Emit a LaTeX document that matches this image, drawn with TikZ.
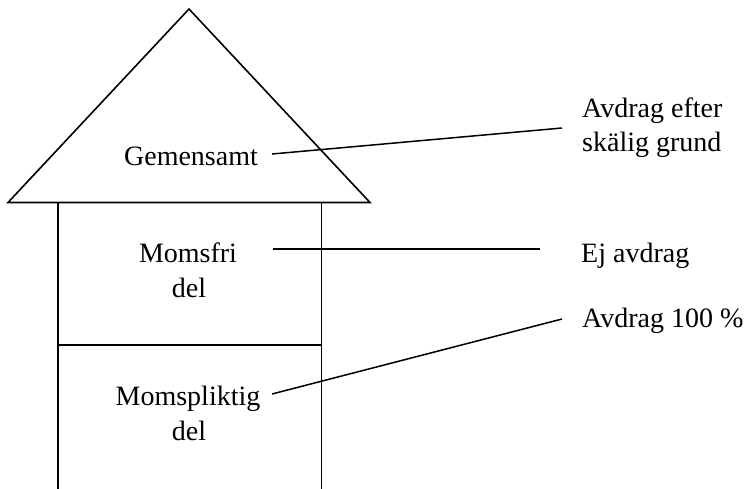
\documentclass[tikz,border=0pt]{standalone}
\usepackage{fontspec}
\setmainfont{Liberation Serif}
\begin{document}
\begin{tikzpicture}[x=1pt,y=-1pt,
  lbl/.style={inner sep=0pt,font=\fontsize{28}{33}\selectfont},
  wall/.style={line width=1.6pt,line join=miter},
  conn/.style={line width=1.5pt}]
\useasboundingbox (0,0) rectangle (751,488);
% house
\coordinate (apex) at (189,9);
\coordinate (bl) at (8,202.5);
\coordinate (br) at (370,202.5);
\draw[wall] (bl) -- (apex) -- (br) -- cycle;
\draw[wall] (58,202.5) -- (58,489);
\draw[wall] (321.5,202.5) -- (321.5,489);
\draw[wall] (58,345) -- (321.5,345);
% left labels
\node[lbl,anchor=base] (gem) at (191,165) {Gemensamt};
\node[lbl,anchor=base] (mf1) at (188,262) {Momsfri};
\node[lbl,anchor=base] (mf2) at (189,297) {del};
\node[lbl,anchor=base] (mp1) at (188,405) {Momspliktig};
\node[lbl,anchor=base] (mp2) at (189,440) {del};
% right labels
\node[lbl,anchor=base west] (r1a) at (582,117) {Avdrag efter};
\node[lbl,anchor=base west] (r1b) at (582,151) {skälig grund};
\node[lbl,anchor=base west] (r2) at (581,262) {Ej avdrag};
\node[lbl,anchor=base west] (r3) at (582,327) {Avdrag 100 \%};
% connector ends
\coordinate (c1s) at (272,154);
\coordinate (c1e) at (562,128);
\coordinate (c2s) at (273,249);
\coordinate (c2e) at (540,249);
\coordinate (c3s) at (272,394);
\coordinate (c3e) at (562,319);
\draw[conn] (c1s) -- (c1e);
\draw[conn] (c2s) -- (c2e);
\draw[conn] (c3s) -- (c3e);
\end{tikzpicture}
\end{document}
